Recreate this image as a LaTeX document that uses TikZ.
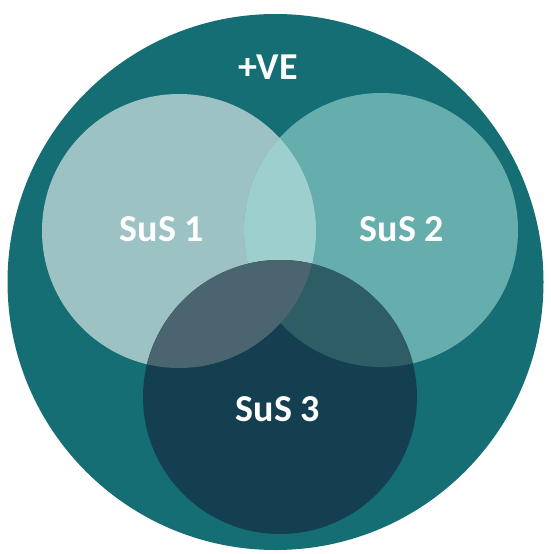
\documentclass[tikz,border=0pt]{standalone}
\usepackage{fontspec}
\setmainfont{Carlito}
\definecolor{outerteal}{HTML}{156E74}
\definecolor{setone}{HTML}{9DC2C4}
\definecolor{settwo}{HTML}{66ADAD}
\definecolor{setthree}{HTML}{143F50}
\definecolor{onetwo}{HTML}{9ECFCF}
\definecolor{onethree}{HTML}{4B6570}
\definecolor{twothree}{HTML}{2F5D66}
\begin{document}
\begin{tikzpicture}[x=1pt,y=-1pt,
  lbl/.style={text=white,font=\fontsize{38}{42}\selectfont\bfseries,inner sep=0pt}]
\useasboundingbox (0,0) rectangle (551,554);
\def\ca{(179,231) circle[radius=137]}
\def\cb{(381,230) circle[radius=137]}
\def\cc{(280,397) circle[radius=137]}
% outer set
\fill[outerteal] (275.5,282) circle[radius=268];
% the three subsets
\fill[setone] \ca;
\fill[settwo] \cb;
\begin{scope}\clip \ca; \fill[onetwo] \cb;\end{scope}
\fill[setthree] \cc;
\begin{scope}\clip \cc; \fill[twothree] \cb;\end{scope}
\begin{scope}\clip \cc; \fill[onethree] \ca;\end{scope}
% labels
\node[lbl] (ve) at (268,67) {+VE};
\node[lbl] (s1) at (162,229) {SuS 1};
\node[lbl] (s2) at (402,229) {SuS 2};
\node[lbl] (s3) at (278,409) {SuS 3};
\end{tikzpicture}
\end{document}
